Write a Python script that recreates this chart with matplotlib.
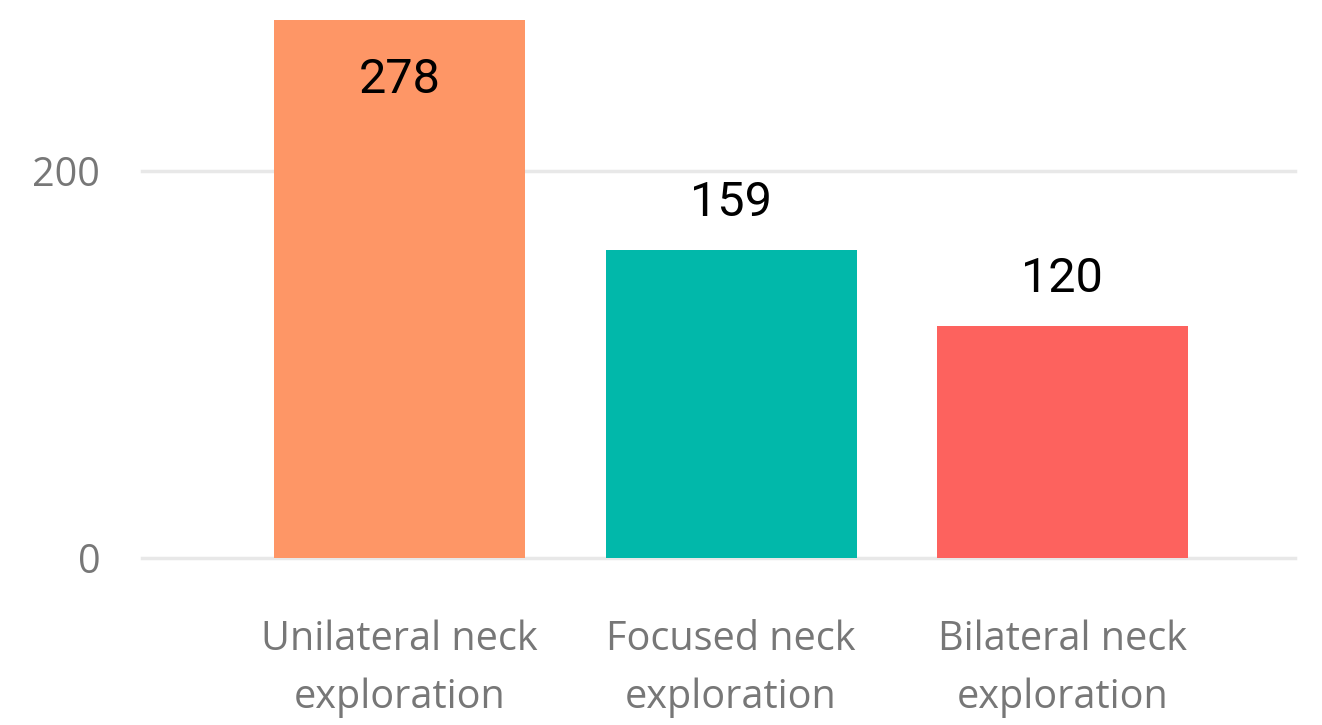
import matplotlib.pyplot as plt

categories = ['Unilateral neck\nexploration', 'Focused neck\nexploration', 'Bilateral neck\nexploration']
counts = [278, 159, 120]
colors = ['#FE9666', '#01B8AA', '#FD625E']
yticks = [0, 200]

W, H = 1322, 725
fig = plt.figure(figsize=(W / 100, H / 100), dpi=100)
# axes placed in pixel terms: x 142..1295, y=0 at 558, 1.935 px per unit
ymax = 282
ax = fig.add_axes([142 / W, (H - 558) / H, (1295 - 142) / W, ymax * 1.935 / H])

x = list(range(len(categories)))
bars = ax.bar(x, counts, width=0.758, color=colors, zorder=2)
ax.set_xlim(-0.778, 2.702)
ax.set_ylim(0, ymax)

ax.set_yticks(yticks)
ax.set_yticklabels([str(t) for t in yticks])
ax.yaxis.grid(True, color='#e8e8e8', linewidth=2.5, zorder=0)
for gl in ax.get_ygridlines():
    gl.set_clip_on(False)
ax.set_xticks(x)
ax.set_xticklabels(categories, linespacing=1.58)
ax.tick_params(axis='both', length=0, labelcolor='#777777', labelsize=28.5)
ax.tick_params(axis='y', pad=30)
ax.tick_params(axis='x', pad=44)
for lab in ax.get_xticklabels() + ax.get_yticklabels():
    lab.set_family('Open Sans')
for s in ax.spines.values():
    s.set_visible(False)

for b, v in zip(bars, counts):
    cx = b.get_x() + b.get_width() / 2
    off = -43 if v > 250 else 34
    ax.annotate(str(v), (cx, v), xytext=(0, off), textcoords='offset points',
                ha='center', va='center', fontsize=35, family='Roboto')

fig.savefig('out.png', dpi=100)
